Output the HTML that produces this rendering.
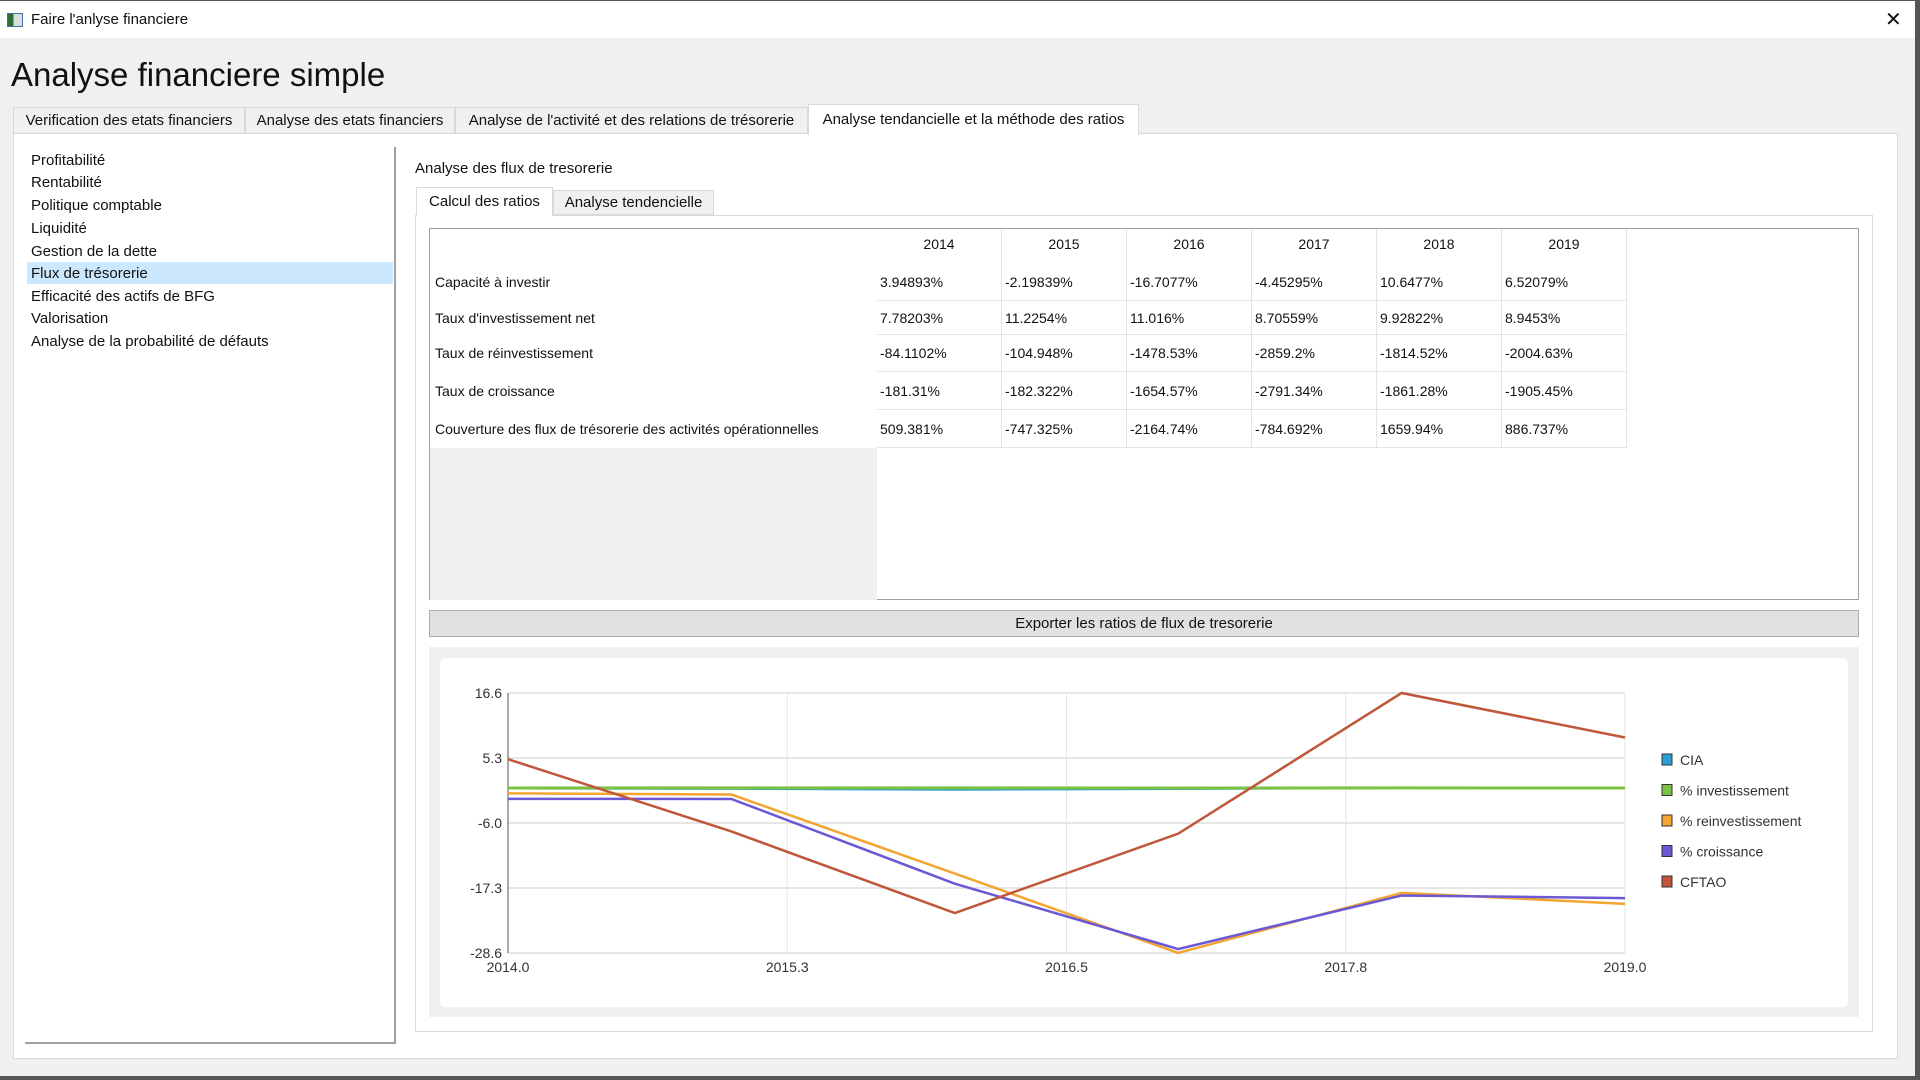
<!DOCTYPE html>
<html><head><meta charset="utf-8">
<style>
*{box-sizing:border-box;margin:0;padding:0}
body{width:1920px;height:1080px;overflow:hidden;background:#f0f0f0;font-family:"Liberation Sans",sans-serif;font-size:15px;color:#111;position:relative}
.abs{position:absolute}
.t{white-space:nowrap}
</style></head><body>
<div class="abs" style="left:0;top:0;width:1920px;height:38px;background:#fff;border-top:1px solid #555">
  <div class="abs" style="left:7px;top:12px;width:16px;height:14px;border:1px solid #3b6ea5;background:linear-gradient(90deg,#2a6e3a 40%,#ddd 40%)"></div>
  <div class="abs t" style="left:31px;top:10px;font-size:15px">Faire l'anlyse financiere</div>
  <div class="abs t" style="left:1885px;top:6px;font-size:20px">✕</div>
</div>
<div class="abs" style="left:1915px;top:0;width:5px;height:1080px;background:#555"></div>
<div class="abs" style="left:0;top:1076px;width:1920px;height:4px;background:#555"></div>

<div class="abs t" style="left:11px;top:56px;font-size:33px">Analyse financiere simple</div>

<div class="abs t" style="left:13px;top:107px;width:232px;height:27px;border:1px solid #d9d9d9;background:#f0f0f0;text-align:center;line-height:25px">Verification des etats financiers</div>
<div class="abs t" style="left:245px;top:107px;width:210px;height:27px;border:1px solid #d9d9d9;background:#f0f0f0;text-align:center;line-height:25px">Analyse des etats financiers</div>
<div class="abs t" style="left:455px;top:107px;width:353px;height:27px;border:1px solid #d9d9d9;background:#f0f0f0;text-align:center;line-height:25px">Analyse de l'activité et des relations de trésorerie</div>

<div class="abs" style="left:13px;top:133px;width:1885px;height:926px;background:#fff;border:1px solid #d9d9d9"></div>
<div class="abs t" style="left:808px;top:104px;width:331px;height:31px;border:1px solid #d9d9d9;border-bottom:none;background:#fff;text-align:center;line-height:29px">Analyse tendancielle et la méthode des ratios</div>

<div class="abs" style="left:25px;top:147px;width:371px;height:897px;border-right:2px solid #a0a0a0;border-bottom:2px solid #a0a0a0"></div>
<div class="abs" style="left:27px;top:262px;width:366px;height:22px;background:#cce8ff"></div>
<div class="abs t" style="left:31px;top:152px">Profitabilité</div>
<div class="abs t" style="left:31px;top:174px">Rentabilité</div>
<div class="abs t" style="left:31px;top:197px">Politique comptable</div>
<div class="abs t" style="left:31px;top:220px">Liquidité</div>
<div class="abs t" style="left:31px;top:243px">Gestion de la dette</div>
<div class="abs t" style="left:31px;top:265px">Flux de trésorerie</div>
<div class="abs t" style="left:31px;top:288px">Efficacité des actifs de BFG</div>
<div class="abs t" style="left:31px;top:310px">Valorisation</div>
<div class="abs t" style="left:31px;top:333px">Analyse de la probabilité de défauts</div>

<div class="abs t" style="left:415px;top:160px">Analyse des flux de tresorerie</div>
<div class="abs" style="left:415px;top:215px;width:1458px;height:817px;background:#fff;border:1px solid #d9d9d9"></div>
<div class="abs t" style="left:416px;top:187px;width:137px;height:29px;background:#fff;border:1px solid #d9d9d9;border-bottom:none;text-align:center;line-height:28px">Calcul des ratios</div>
<div class="abs t" style="left:553px;top:190px;width:161px;height:25px;background:#f0f0f0;border:1px solid #d9d9d9;text-align:center;line-height:24px">Analyse tendencielle</div>

<div class="abs" style="left:429px;top:228px;width:1430px;height:372px;border:1px solid #a0a0a0;background:#fff;font-size:14px">
  <div class="abs" style="left:0;top:219px;width:447px;height:152px;background:#f0f0f0"></div>
  <div id="tbl"></div>
</div>
<div class="abs t" style="left:429px;top:610px;width:1430px;height:27px;background:#e1e1e1;border:1px solid #adadad;text-align:center;line-height:25px">Exporter les ratios de flux de tresorerie</div>

<div class="abs" style="left:429px;top:647px;width:1430px;height:370px;background:#f0f0f0"></div>
<div class="abs" style="left:440px;top:658px;width:1408px;height:349px;background:#fff;border-radius:6px"></div>
<svg class="abs" id="chart" style="left:0;top:0" width="1920" height="1080"></svg>

<script>
const years=["2014","2015","2016","2017","2018","2019"];
const rowLabels=["Capacité à investir","Taux d'investissement net","Taux de réinvestissement","Taux de croissance","Couverture des flux de trésorerie des activités opérationnelles"];
const tCIA=["3.94893%","-2.19839%","-16.7077%","-4.45295%","10.6477%","6.52079%"];
const tInv=["7.78203%","11.2254%","11.016%","8.70559%","9.92822%","8.9453%"];
const tReinv=["-84.1102%","-104.948%","-1478.53%","-2859.2%","-1814.52%","-2004.63%"];
const tCroiss=["-181.31%","-182.322%","-1654.57%","-2791.34%","-1861.28%","-1905.45%"];
const tCFTAO=["509.381%","-747.325%","-2164.74%","-784.692%","1659.94%","886.737%"];
const tableRows=[tCIA,tInv,tReinv,tCroiss,tCFTAO];

const xYears=[2014,2015,2016,2017,2018,2019];
const cia=[0.0395,-0.022,-0.167,-0.0445,0.106,0.065];
const invest=[0.078,0.112,0.110,0.087,0.099,0.089];
const reinvest=[-0.84,-1.05,-14.79,-28.59,-18.15,-20.05];
const croissance=[-1.81,-1.82,-16.55,-27.91,-18.61,-19.05];
const cftao=[5.09,-7.47,-21.65,-7.85,16.6,8.87];
const yTicks=["16.6","5.3","-6.0","-17.3","-28.6"];
const xTickVals=[2014,2015.25,2016.5,2017.75,2019];
const seriesNames=["CIA","% investissement","% reinvestissement","% croissance","CFTAO"];
const seriesData=[cia,invest,reinvest,croissance,cftao];
const seriesColors=["#2a9fd6","#7cc242","#f2a531","#6a58d4","#c0563a"];

const tbl=document.getElementById('tbl');
const colX=447,colW=125,rowB=[0,34,72,106,143,181,219];
years.forEach((y,i)=>{
  const d=document.createElement('div');
  
  
  d.className='abs t';
  d.style.cssText=`left:${colX+i*colW}px;top:0;width:${colW}px;height:34px;border-right:1px solid #e4e4e4;text-align:center;line-height:30px`;
  d.textContent=y;tbl.appendChild(d);
});
rowLabels.forEach((l,r)=>{
  const top=rowB[r+1],h=rowB[r+2]-rowB[r+1];
  const d=document.createElement('div');
  
  
  d.className='abs t';
  d.style.cssText=`left:5px;top:${top}px;height:${h}px;line-height:${h}px`;
  d.textContent=l;tbl.appendChild(d);
  tableRows[r].forEach((v,i)=>{
    const c=document.createElement('div');
    
    
    c.className='abs t';
    c.style.cssText=`left:${colX+i*colW}px;top:${top}px;width:${colW}px;height:${h}px;border-right:1px solid #e4e4e4;border-bottom:1px solid #e4e4e4;padding-left:3px;line-height:${h}px`;
    c.textContent=v;tbl.appendChild(c);
  });
});

const svg=document.getElementById('chart');
const NS='http://www.w3.org/2000/svg';
const L=508,R=1625,T=693,B=953,ymin=-28.6,ymax=16.6,xmin=2014,xmax=2019;
const sx=v=>L+(v-xmin)/(xmax-xmin)*(R-L);
const sy=v=>B-(v-ymin)/(ymax-ymin)*(B-T);
function mk(tag,attrs){const e=document.createElementNS(NS,tag);for(const k in attrs)e.setAttribute(k,attrs[k]);svg.appendChild(e);return e;}
xTickVals.forEach(v=>{
  const x=sx(v);
  const g=mk('line',{x1:x,x2:x,y1:T,y2:B,stroke:'#e6e6e6','stroke-width':1});
  
  
  const tx=mk('text',{x:x,y:B+19,'text-anchor':'middle','font-size':14,fill:'#333','font-family':'Liberation Sans, sans-serif'});
  
  
  tx.textContent=v.toFixed(1);
});
yTicks.forEach(t=>{
  const y=sy(parseFloat(t));
  const g=mk('line',{x1:L,x2:R,y1:y,y2:y,stroke:'#e6e6e6','stroke-width':2});
  
  
  const tx=mk('text',{x:L-6,y:y+5,'text-anchor':'end','font-size':14,fill:'#333','font-family':'Liberation Sans, sans-serif'});
  
  
  tx.textContent=t;
});
const ax=mk('line',{x1:L,x2:L,y1:T,y2:B,stroke:'#555','stroke-width':1});


seriesData.forEach((d,s)=>{
  const pts=d.map((v,i)=>sx(xYears[i])+','+sy(v)).join(' ');
  const p=mk('polyline',{points:pts,fill:'none',stroke:seriesColors[s],'stroke-width':s==1?3:2.5});
  
  
});
seriesNames.forEach((n,s)=>{
  const y=760+s*30.5;
  const r=mk('rect',{x:1662,y:y-6,width:10,height:11,fill:seriesColors[s],stroke:'#333','stroke-width':1});
  
  
  const tx=mk('text',{x:1680,y:y+5,'font-size':14,fill:'#333','font-family':'Liberation Sans, sans-serif'});
  
  
  tx.textContent=n;
});
</script>
</body></html>
